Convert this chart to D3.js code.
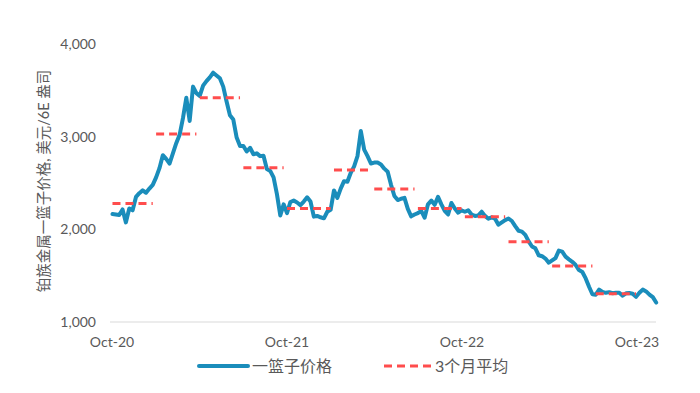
<!DOCTYPE html>
<html>
<head>
<meta charset="utf-8">
<script src="https://cdn.jsdelivr.net/npm/d3@7"></script>
<style>
  body { margin: 0; background: #fff; }
  svg { display: block; }
</style>
</head>
<body>
<div id="chart"></div>
<script>
// weekly basket price, USD per 6E oz, from the first Friday of Oct-20
const basketPrice = [
  2165, 2160, 2155, 2215, 2075, 2225, 2205, 2350, 2390, 2420,
  2395, 2440, 2480, 2560, 2660, 2800, 2760, 2710, 2820, 2930,
  3020, 3200, 3420, 3170, 3540, 3470, 3440, 3550, 3600, 3640,
  3690, 3660, 3630, 3540, 3380, 3230, 3185, 2990, 2900, 2900,
  2840, 2880, 2810, 2820, 2790, 2795, 2650, 2630, 2560, 2380,
  2150, 2270, 2175, 2295, 2310, 2290, 2262, 2300, 2345, 2300,
  2137, 2144, 2130, 2119, 2190, 2210, 2420, 2340, 2440, 2520,
  2514, 2610, 2680, 2790, 3060, 2860, 2790, 2710, 2720, 2720,
  2700, 2655, 2622, 2480, 2360, 2316, 2330, 2340, 2220, 2140,
  2160, 2175, 2200, 2125, 2270, 2310, 2265, 2350, 2270, 2200,
  2160, 2285, 2225, 2180, 2205, 2190, 2205, 2160, 2145, 2150,
  2190, 2145, 2115, 2130, 2115, 2050, 2075, 2100, 2117, 2090,
  2035, 1985, 1975, 1940, 1870, 1815, 1795, 1720, 1710, 1685,
  1640, 1665, 1690, 1770, 1760, 1705, 1676, 1650, 1615, 1560,
  1540, 1470, 1380, 1300, 1295, 1350, 1325, 1315, 1322, 1310,
  1316, 1315, 1285, 1310, 1312, 1305, 1272, 1315, 1350, 1330,
  1295, 1268, 1210
];

// quarterly (3-month) averages
const quarterStarts = ["2020-10-01", "2021-01-01", "2021-04-01", "2021-07-01",
                       "2021-10-01", "2022-01-01", "2022-04-01", "2022-07-01",
                       "2022-10-01", "2023-01-01", "2023-04-01", "2023-07-01"];
const quarterAvg = [2280, 3030, 3420, 2665, 2225, 2640, 2435, 2225, 2137, 1867, 1604, 1305];

const xTickLabels = ["Oct-20", "Oct-21", "Oct-22", "Oct-23"];
const xTickDates = ["2020-10-01", "2021-10-01", "2022-10-01", "2023-10-01"];
const yTicks = [1000, 2000, 3000, 4000];

const yTitle = "铂族金属一篮子价格, 美元/6E 盎司";
const legendNames = ["一篮子价格", "3个月平均"];

const width = 700, height = 393;
const font = "Lato, 'Noto Sans CJK SC', sans-serif";
const blue = "#1A8DBB", red = "#FF4D4D", grey = "#595959";

const parse = d3.timeParse("%Y-%m-%d");
const weeks = d3.timeFriday.range(parse("2020-10-02"), parse("2023-11-11"))
  .slice(0, basketPrice.length);
const series = weeks.map((d, i) => ({ date: d, value: basketPrice[i] }));

const x = d3.scaleTime()
  .domain([parse("2020-10-01"), parse("2023-10-01")])
  .range([112, 637]);
const y = d3.scaleLinear().domain([1000, 4000]).range([322, 44]);

const svg = d3.select("#chart").append("svg")
  .attr("width", width).attr("height", height)
  .style("font-family", font);

// y tick labels
svg.append("g").selectAll("text")
  .data(yTicks)
  .join("text")
    .attr("x", 96)
    .attr("y", d => y(d))
    .attr("dy", "0.35em")
    .attr("text-anchor", "end")
    .attr("fill", grey)
    .style("font-size", "14px")
    .text(d => d3.format(",")(d));

// y title
svg.append("text")
  .attr("transform", `translate(44,${(44 + 322) / 2 - 2}) rotate(-90)`)
  .attr("text-anchor", "middle")
  .attr("dy", "0.35em")
  .attr("fill", grey)
  .style("font-size", "14.5px")
  .text(yTitle);

// x axis line
svg.append("line")
  .attr("x1", 110).attr("x2", 656)
  .attr("y1", y(1000)).attr("y2", y(1000))
  .attr("stroke", "#D9D9D9").attr("stroke-width", 1);

// x tick labels
svg.append("g").selectAll("text")
  .data(xTickDates)
  .join("text")
    .attr("x", d => x(parse(d)))
    .attr("y", 347)
    .attr("text-anchor", "middle")
    .attr("fill", grey)
    .style("font-size", "14px")
    .text((d, i) => xTickLabels[i]);

// basket line
const line = d3.line()
  .x(d => x(d.date))
  .y(d => y(d.value))
  .curve(d3.curveLinear);

svg.append("path")
  .datum(series)
  .attr("d", line)
  .attr("fill", "none")
  .attr("stroke", blue)
  .attr("stroke-width", 4)
  .attr("stroke-linejoin", "round")
  .attr("stroke-linecap", "round");

// quarterly average dashes, one segment over the weeks of each quarter
const quarters = quarterStarts.map((s, i) => {
  const start = parse(s);
  const end = d3.timeMonth.offset(start, 3);
  const wk = weeks.filter(d => d >= start && d < end);
  return [{ date: wk[0], value: quarterAvg[i] }, { date: wk[wk.length - 1], value: quarterAvg[i] }];
});

svg.append("g").selectAll("path")
  .data(quarters)
  .join("path")
    .attr("d", line)
    .attr("fill", "none")
    .attr("stroke", red)
    .attr("stroke-width", 3)
    .attr("stroke-dasharray", "8,5");

// legend
const lg = svg.append("g");
lg.append("line")
  .attr("x1", 199).attr("x2", 248).attr("y1", 366).attr("y2", 366)
  .attr("stroke", blue).attr("stroke-width", 4).attr("stroke-linecap", "round");
lg.append("text")
  .attr("x", 252).attr("y", 366).attr("dy", "0.35em")
  .attr("fill", grey).style("font-size", "16px")
  .text(legendNames[0]);
lg.append("line")
  .attr("x1", 384).attr("x2", 432).attr("y1", 366).attr("y2", 366)
  .attr("stroke", red).attr("stroke-width", 3).attr("stroke-dasharray", "8,5");
lg.append("text")
  .attr("x", 435).attr("y", 366).attr("dy", "0.35em")
  .attr("fill", grey).style("font-size", "16px")
  .text(legendNames[1]);
</script>
</body>
</html>
